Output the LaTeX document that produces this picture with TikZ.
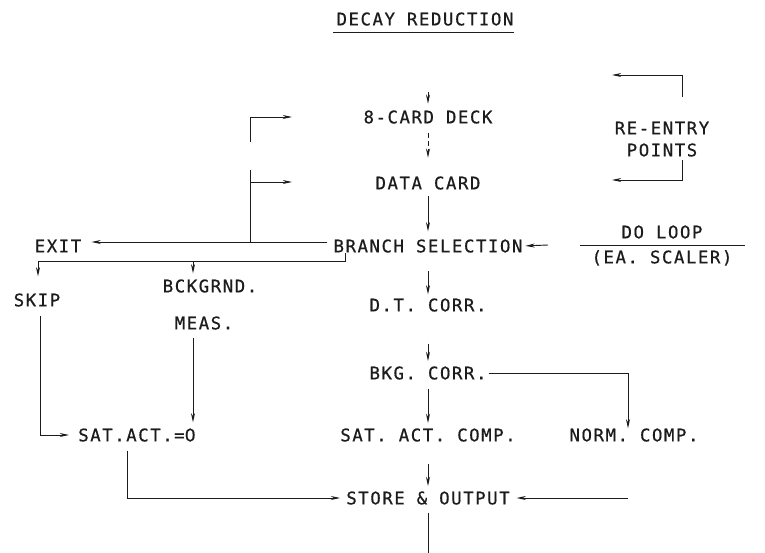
\documentclass[tikz,border=0pt]{standalone}
\usepackage{fontspec}
\newfontfamily\lettering{DejaVu Sans Mono}[LetterSpace=9,FakeBold=0.6]
\newfontfamily\plainzero{DejaVu Sans}[FakeBold=0.6]
\usetikzlibrary{arrows.meta,calc}
\definecolor{ink}{HTML}{1C1C1C}
\begin{document}
\begin{tikzpicture}[x=0.75pt,y=-0.75pt,
  lbl/.style={font=\lettering\fontsize{13pt}{15pt}\selectfont, text=ink, inner sep=0pt, text height=9.5pt, text depth=0pt},
  ln/.style={draw=ink, line width=0.7pt},
  arr/.style={ln, -{Stealth[length=7pt,width=3pt]}},
]
\useasboundingbox[fill=white] (0,0) rectangle (765,553);

% texts
\node[lbl] (title) at (425,19) {DECAY REDUCTION};
\draw[ln] ($(title.south west)+(-3,7)$) -- ($(title.south east)+(0,7)$);

\node[lbl] (card)   at (428,117) {8-CARD DECK};
\node[lbl] (data)   at (428,183) {DATA CARD};
\node[lbl] (branch) at (428,246) {BRANCH SELECTION};
\node[lbl] (dt)     at (428,305) {D.T. CORR.};
\node[lbl] (bkg)    at (428,373) {BKG. CORR.};
\node[lbl] (satc)   at (428,435) {SAT. ACT. COMP.};
\node[lbl] (store)  at (428,498) {STORE \& OUTPUT};
\node[lbl] (norm)   at (634,435) {NORM. COMP.};

\node[lbl] (exit)   at (58,246)  {EXIT};
\node[lbl] (skip)   at (37,300)  {SKIP};
\node[lbl] (bck)    at (210,286) {BCKGRND.};
\node[lbl] (meas)   at (204,323) {MEAS.};
\node[lbl] (sat0)   at (137,435) {SAT.ACT.={\plainzero 0}};

\node[lbl] (doloop) at (662,232) {DO LOOP};
\node[lbl] (scaler) at (662,257) {(EA. SCALER)};
\node[lbl] (reentry) at (662,128) {RE-ENTRY};
\node[lbl] (points)  at (662,150) {POINTS};

% coordinates for free ends
\coordinate (in1) at (428,92);
\coordinate (out) at (428,553);
\coordinate (j1)  at (250,242);
\coordinate (lb2) at (250,170);
\coordinate (lb2a) at (250,182);
\coordinate (lb1) at (250,142);
\coordinate (r1)  at (292,117);
\coordinate (r2)  at (292,182);
\coordinate (t1)  at (345,253);
\coordinate (c2)  at (38,261);
\coordinate (j2)  at (193,261);
\coordinate (k1)  at (628,373);
\coordinate (rin) at (628,498);
\coordinate (dl)  at (548,245);
\coordinate (bar1) at (580,245);
\coordinate (bar2) at (745,245);
\coordinate (ra)  at (682,97);
\coordinate (rat) at (612,75);
\coordinate (rb)  at (682,160);
\coordinate (rbt) at (612,180);
\coordinate (m1)  at ($(meas.south)+(-11,0)$);
\coordinate (s1)  at ($(sat0.south)+(-10,0)$);
\coordinate (sk1) at ($(skip.south)+(3,0)$);

% main column
\draw[arr, shorten >=5pt] (in1) -- (card.north);
\draw[arr, dash pattern=on 4pt off 2pt, shorten <=7pt, shorten >=14pt] (card.south) -- (data.north);
\draw[arr, shorten <=5pt, shorten >=6pt] (data.south) -- (branch.north);
\draw[arr, shorten <=14pt, shorten >=3pt] (branch.south) -- (dt.north);
\draw[arr, shorten <=24pt, shorten >=4pt] (dt.south) -- (bkg.north);
\draw[arr, shorten <=7pt, shorten >=4pt] (bkg.south) -- (satc.north);
\draw[arr, shorten <=17pt, shorten >=4pt] (satc.south) -- (store.north);
\draw[ln, shorten <=6pt] (store.south) -- (out);

% exit and re-entry on the left
\draw[arr] ($(branch.west)+(-6,-4)$) -- ($(exit.east)+(10,-4)$);
\draw[ln] (j1) -- (lb2);
\draw[arr] (lb2a) -- (r2);
\draw[arr] (lb1) |- (r1);

% branch to skip / background
\draw[arr, shorten >=12.75pt] (t1) |- (c2) -- (c2 |- skip.north);
\draw[arr, shorten >=4.5pt] (j2) -- (j2 |- bck.north);
\draw[arr, shorten <=6.75pt] (sk1) |- ($(sat0.west)+(-9,0)$);
\draw[arr, shorten <=6pt, shorten >=4.5pt] (m1) -- (m1 |- sat0.north);
\draw[arr, shorten <=6.75pt] (s1) |- ($(store.west)+(-6,0)$);

% normalisation
\draw[arr] ($(bkg.east)+(2,0)$) -- (k1) -- (k1 |- norm.north);
\draw[arr, shorten >=5pt] (rin) -- (store.east);

% do loop
\draw[ln] (bar1) -- (bar2);
\draw[arr, shorten >=2pt] (dl) -- (branch.east);

% re-entry points
\draw[arr] (ra) |- (rat);
\draw[arr] (rb) |- (rbt);
\end{tikzpicture}
\end{document}
